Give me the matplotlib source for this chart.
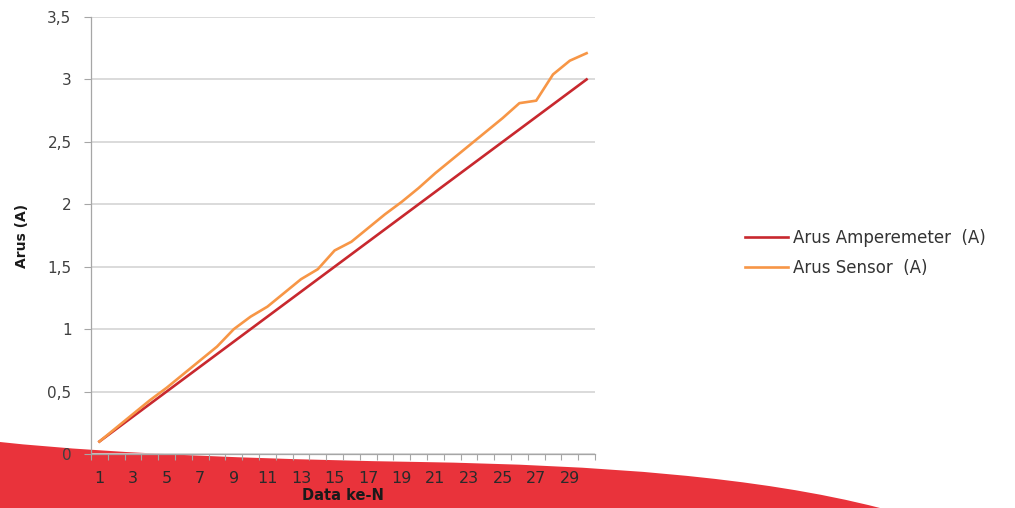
import matplotlib
matplotlib.use("Agg")
import matplotlib.pyplot as plt
from matplotlib.path import Path
from matplotlib.patches import PathPatch
from matplotlib.ticker import FixedLocator, MultipleLocator, FuncFormatter

# nomor data ke-N
data_ke = list(range(1, 31))
# arus terukur amperemeter (A)
arus_amperemeter = [0.1, 0.2, 0.3, 0.4, 0.5, 0.6, 0.7, 0.8, 0.9, 1.0,
                    1.1, 1.2, 1.3, 1.4, 1.5, 1.6, 1.7, 1.8, 1.9, 2.0,
                    2.1, 2.2, 2.3, 2.4, 2.5, 2.6, 2.7, 2.8, 2.9, 3.0]
# arus terbaca sensor (A)
arus_sensor = [0.10, 0.21, 0.32, 0.43, 0.53, 0.64, 0.75, 0.86, 1.00, 1.10,
               1.18, 1.29, 1.40, 1.48, 1.63, 1.70, 1.81, 1.92, 2.02, 2.13,
               2.25, 2.36, 2.47, 2.58, 2.69, 2.81, 2.83, 3.04, 3.15, 3.21]
x_labels = [str(n) for n in range(1, 31, 2)]

plt.rcParams['font.family'] = ['DejaVu Sans']

W, H = 1015, 508
fig = plt.figure(figsize=(W / 100, H / 100), dpi=100)
fig.patch.set_facecolor('white')

# pita merah dekoratif di bagian bawah slide (koordinat piksel)
def px(x, y):
    return (x / W, 1 - y / H)

verts = [px(-5, 440), px(0, 442),
         px(120, 455), px(300, 460), px(420, 462),
         px(600, 465), px(760, 477), px(880, 508),
         px(900, 525), px(-5, 525), px(-5, 440)]
codes = [Path.MOVETO, Path.LINETO,
         Path.CURVE4, Path.CURVE4, Path.CURVE4,
         Path.CURVE4, Path.CURVE4, Path.CURVE4,
         Path.LINETO, Path.LINETO, Path.CLOSEPOLY]
swoosh = PathPatch(Path(verts, codes), facecolor='#E9333B', edgecolor='none',
                   transform=fig.transFigure, zorder=-1)
fig.add_artist(swoosh)

ax = fig.add_axes([91 / W, 1 - 454 / H, 504 / W, 437 / H])
ax.set_facecolor('none')

ax.plot(data_ke, arus_amperemeter, color='#C8282E', lw=1.9,
        label='Arus Amperemeter  (A)', zorder=3)
ax.plot(data_ke, arus_sensor, color='#F79646', lw=1.9,
        label='Arus Sensor  (A)', zorder=4)

ax.set_xlim(0.5, 30.5)
ax.set_ylim(0, 3.5)

# sumbu kategori: label di tengah, garis tick di batas kategori
ax.xaxis.set_major_locator(FixedLocator(list(range(1, 31, 2))))
ax.set_xticklabels(x_labels)
ax.xaxis.set_minor_locator(FixedLocator([i + 0.5 for i in range(0, 31)]))
ax.tick_params(axis='x', which='major', length=0, pad=12, labelsize=11.5,
               labelcolor='#2a2a2a')
ax.tick_params(axis='x', which='minor', length=4, width=0.8, color='#A6A6A6',
               direction='out')

ax.yaxis.set_major_locator(MultipleLocator(0.5))
ax.yaxis.set_major_formatter(FuncFormatter(
    lambda v, p: ('%g' % v).replace('.', ',')))
ax.tick_params(axis='y', length=5, width=0.8, color='#A6A6A6', pad=9,
               labelsize=11, labelcolor='#404040')

ax.grid(axis='y', color='#D4D4D4', lw=1.2)
ax.set_axisbelow(True)
for side in ['top', 'right']:
    ax.spines[side].set_visible(False)
for side in ['left', 'bottom']:
    ax.spines[side].set_color('#A6A6A6')
    ax.spines[side].set_linewidth(0.9)

ax.set_xlabel('Data ke-N', fontsize=10.5, fontweight='bold', labelpad=2,
              color='#1a1a1a')
ax.set_ylabel('Arus (A)', fontsize=10, fontweight='bold', labelpad=13,
              color='#1a1a1a')

ax.legend(loc='center left', bbox_to_anchor=(745 / W, 1 - 253 / H),
          bbox_transform=fig.transFigure, frameon=False, fontsize=12,
          handlelength=2.6, handletextpad=0.3, labelspacing=0.75,
          borderpad=0, borderaxespad=0, labelcolor='#333333')

fig.savefig('out.png', dpi=100)
